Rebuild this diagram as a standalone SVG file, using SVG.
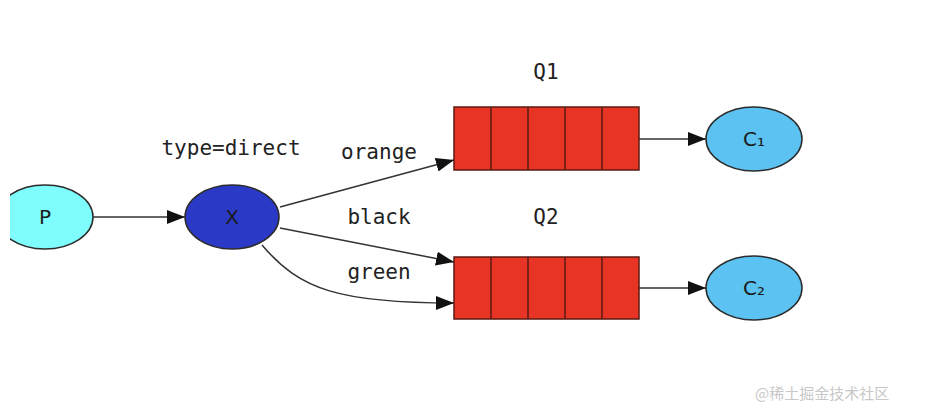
<svg xmlns="http://www.w3.org/2000/svg" width="930" height="418" viewBox="0 0 930 418">
<style>
.node{stroke:#2b2b2b;stroke-width:1.5}
.lbl{font-family:"DejaVu Sans Mono","Liberation Mono",monospace;font-size:21px;fill:#222;text-anchor:middle}
.nt{font-family:"DejaVu Sans","Liberation Sans",sans-serif;font-size:20px;fill:#1a1a1a;text-anchor:middle}
.edge{fill:none;stroke:#333;stroke-width:1.5}
.q{fill:#e83424;stroke:#5a1a12;stroke-width:1.5}
.qd{stroke:#5a1a12;stroke-width:1.5}
.wm{font-family:"Noto Sans CJK SC","Liberation Sans",sans-serif;font-size:15px;fill:#c8c8c8}
</style>
<defs>
<marker id="arr" markerWidth="18" markerHeight="14" refX="18" refY="7" orient="auto" markerUnits="userSpaceOnUse">
<path d="M0,0 L18,7 L0,14 z" fill="#111"/>
</marker>
<clipPath id="clipL"><rect x="10" y="0" width="920" height="418"/></clipPath>
</defs>
<rect width="930" height="418" fill="#fff"/>
<g id="connectors">
<line class="edge" x1="93" y1="217" x2="185" y2="217" marker-end="url(#arr)"/>
<line class="edge" x1="280" y1="207" x2="454" y2="160" marker-end="url(#arr)"/>
<line class="edge" x1="280" y1="228" x2="454" y2="262" marker-end="url(#arr)"/>
<path class="edge" d="M262,245 C300,290 340,303 454,303" marker-end="url(#arr)"/>
<line class="edge" x1="639" y1="139" x2="706" y2="139" marker-end="url(#arr)"/>
<line class="edge" x1="639" y1="288" x2="706" y2="288" marker-end="url(#arr)"/>
<text class="lbl" x="231" y="155">type=direct</text>
<text class="lbl" x="379" y="159">orange</text>
<text class="lbl" x="379" y="224">black</text>
<text class="lbl" x="379" y="279">green</text>
</g>
<g id="P">
<ellipse class="node" cx="45" cy="217" rx="48" ry="32" fill="#7ffcfc" clip-path="url(#clipL)"/>
<text class="nt" x="45" y="224">P</text>
</g>
<g id="X">
<ellipse class="node" cx="232" cy="217" rx="47" ry="32" fill="#2b3ac6"/>
<text class="nt" x="232" y="224">X</text>
</g>
<g id="Q1">
<rect class="q" x="454" y="107" width="185" height="63"/>
<line class="qd" x1="491" y1="107" x2="491" y2="170"/>
<line class="qd" x1="528" y1="107" x2="528" y2="170"/>
<line class="qd" x1="565" y1="107" x2="565" y2="170"/>
<line class="qd" x1="602" y1="107" x2="602" y2="170"/>
<text class="lbl" x="546" y="79">Q1</text>
</g>
<g id="Q2">
<rect class="q" x="454" y="257" width="185" height="62"/>
<line class="qd" x1="491" y1="257" x2="491" y2="319"/>
<line class="qd" x1="528" y1="257" x2="528" y2="319"/>
<line class="qd" x1="565" y1="257" x2="565" y2="319"/>
<line class="qd" x1="602" y1="257" x2="602" y2="319"/>
<text class="lbl" x="546" y="224">Q2</text>
</g>
<g id="C1">
<ellipse class="node" cx="754" cy="139" rx="48" ry="32" fill="#5cc2f2"/>
<text class="nt" x="754" y="146">C₁</text>
</g>
<g id="C2">
<ellipse class="node" cx="754" cy="288" rx="48" ry="32" fill="#5cc2f2"/>
<text class="nt" x="754" y="295">C₂</text>
</g>
<text class="wm" x="755" y="399">@稀土掘金技术社区</text>
</svg>
